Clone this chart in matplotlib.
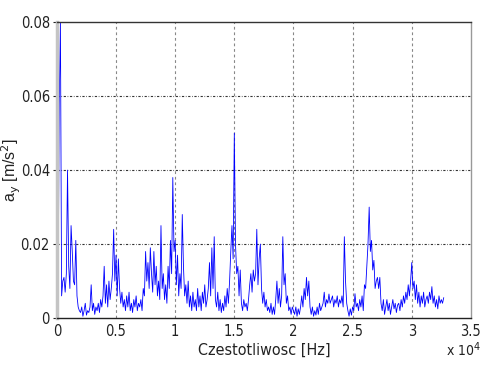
import matplotlib
matplotlib.use("Agg")
import matplotlib.pyplot as plt
import numpy as np
from matplotlib import font_manager

freq_start = 0
freq_step = 100

# acceleration amplitude a_y, in units of 1e-3 m/s^2, every 100 Hz from 0 to 32700 Hz
ay_milli = [
    # 0 - 900
    1.5, 4, 58, 80, 6, 10, 11, 7, 12, 40,
    # 1000 - 1900
    14, 8, 25, 18, 10, 9, 21, 6, 3, 2,
    # 2000 - 2900
    1.5, 3, 0.5, 2, 4, 0.8, 2, 1.5, 3, 9,
    # 3000 - 3900
    2, 4, 1, 3, 2, 4, 1.5, 5, 3, 6,
    # 4000 - 4900
    14, 4, 9, 3, 10, 5, 8, 12, 24, 10,
    # 5000 - 5900
    17, 6, 16, 8, 4, 7, 3, 5, 2, 6,
    # 6000 - 6900
    3, 7, 2, 4, 1.5, 5, 3, 6, 2, 4,
    # 7000 - 7900
    3, 5, 2, 8, 6, 18, 10, 15, 8, 19,
    # 8000 - 8900
    12, 7, 18, 9, 14, 6, 10, 5, 25, 8,
    # 9000 - 9900
    12, 5, 9, 4, 14, 8, 21, 12, 38, 18,
    # 10000 - 10900
    21, 9, 17, 6, 12, 8, 28, 14, 6, 9,
    # 11000 - 11900
    4, 10, 3, 6, 2, 7, 3, 5, 2, 8,
    # 12000 - 12900
    3, 6, 2, 7, 4, 9, 3, 5, 8, 15,
    # 13000 - 13900
    6, 19, 8, 22, 5, 3, 7, 2, 5, 1.5,
    # 14000 - 14900
    4, 2, 6, 3, 8, 4, 10, 18, 25, 16,
    # 15000 - 15900
    50, 20, 12, 14, 6, 13, 4, 2, 5, 3,
    # 16000 - 16900
    4, 2, 5, 9, 12, 7, 13, 10, 12, 24,
    # 17000 - 17900
    9, 16, 20, 8, 4, 7, 3, 5, 2, 3,
    # 18000 - 18900
    1.5, 4, 1, 3, 1, 5, 10, 4, 8, 3,
    # 19000 - 19900
    6, 22, 9, 12, 4, 6, 2, 3, 1, 3,
    # 20000 - 20900
    2, 1, 3, 0.5, 2.5, 1, 3, 6, 3, 8,
    # 21000 - 21900
    5, 11, 6, 10, 3, 1, 3, 0.5, 2, 0.8,
    # 22000 - 22900
    3, 1, 4, 2, 3, 4, 7, 3, 5, 4,
    # 23000 - 23900
    6.5, 4, 5, 6, 3, 5, 4, 6, 3, 5,
    # 24000 - 24900
    4, 6, 3, 22, 10, 4, 2, 0.5, 2.5, 0.8,
    # 25000 - 25900
    3, 2, 6.6, 3, 4, 2, 5, 3, 6, 2,
    # 26000 - 26900
    9, 8, 14, 20, 30, 18, 21, 13, 15.6, 8,
    # 27000 - 27900
    10, 11, 8, 11, 4, 2, 5, 1, 3, 5,
    # 28000 - 28900
    2, 4, 1, 3, 5, 2.5, 4, 1.5, 3.5, 4,
    # 29000 - 29900
    2, 5, 3, 6, 4, 7, 5, 9, 6, 10,
    # 30000 - 30900
    15, 8, 10, 5, 9, 4, 7, 3, 6, 4,
    # 31000 - 31900
    7, 3, 5, 6, 4, 7, 5, 8.5, 4, 6,
    # 32000 - 32700
    3, 5, 2.5, 6, 4, 5, 4, 5.5,
]

x_ticks = [0, 5000, 10000, 15000, 20000, 25000, 30000, 35000]
x_tick_labels = ["0", "0.5", "1", "1.5", "2", "2.5", "3", "3.5"]
y_ticks = [0, 0.02, 0.04, 0.06, 0.08]
y_tick_labels = ["0", "0.02", "0.04", "0.06", "0.08"]

freq = freq_start + freq_step * np.arange(len(ay_milli))
ay = np.array(ay_milli) * 1e-3

# look for a condensed sans font (narrow MATLAB-like labels)
cond = None
for f in font_manager.fontManager.ttflist:
    if 'Narrow' in f.name or ('DejaVu Sans' == f.name and 'ondensed' in str(f.fname)
                              and f.style == 'normal' and f.weight in (400, 'normal')):
        cond = f
        break
if cond is not None:
    tick_fp = font_manager.FontProperties(fname=cond.fname, size=10.5)
    lab_fp = font_manager.FontProperties(fname=cond.fname, size=11.5)
    off_fp = font_manager.FontProperties(fname=cond.fname, size=10)
else:
    tick_fp = font_manager.FontProperties(family='Liberation Sans', size=10)
    lab_fp = font_manager.FontProperties(family='Liberation Sans', size=11)
    off_fp = font_manager.FontProperties(family='Liberation Sans', size=9.5)

plt.rcParams['font.family'] = ['Liberation Sans', 'DejaVu Sans']

fig = plt.figure(figsize=(4.82, 3.69), dpi=100)
ax = fig.add_axes([0.118, 0.138, 0.859, 0.802])

ax.plot(freq, ay, color='#0000ff', lw=0.6)

ax.set_xlim(0, 35000)
ax.set_ylim(0, 0.08)
ax.set_xticks(x_ticks)
ax.set_xticklabels(x_tick_labels, fontproperties=tick_fp)
ax.set_yticks(y_ticks)
ax.set_yticklabels(y_tick_labels, fontproperties=tick_fp)

# grid lines
for xv in x_ticks[1:-1]:
    ax.axvline(xv, color='#888888', lw=0.8, ls=(0, (2.5, 2.5)), zorder=0)
for yv in y_ticks[1:-1]:
    ax.axhline(yv, color='#333333', lw=0.8, ls=(0, (2, 1.5, 0.6, 1.5)), zorder=0)

ax.spines['left'].set_color('#c4c4c4')
ax.spines['left'].set_linewidth(2.5)
ax.spines['right'].set_color('#999999')
ax.spines['right'].set_linewidth(1.0)
ax.spines['top'].set_color('#333333')
ax.spines['top'].set_linewidth(1.0)
ax.spines['bottom'].set_color('#222222')
ax.spines['bottom'].set_linewidth(1.0)

ax.tick_params(axis='both', direction='out', length=3, width=0.8,
               colors='#222222', pad=2)
ax.tick_params(axis='x', length=0, pad=4)

ax.set_xlabel('Czestotliwosc [Hz]', fontproperties=lab_fp, color='#222222')
ax.xaxis.set_label_coords(0.5, -0.085)
ax.set_ylabel(r'a$_{\rm y}$ [m/s$^2$]', fontsize=11.5, color='#222222')
ax.yaxis.set_label_coords(-0.082, 0.5)
fig.text(0.925, 0.035, r'x 10$^4$', fontproperties=off_fp, color='#222222')

fig.savefig('out.png', dpi=100, facecolor='white')
